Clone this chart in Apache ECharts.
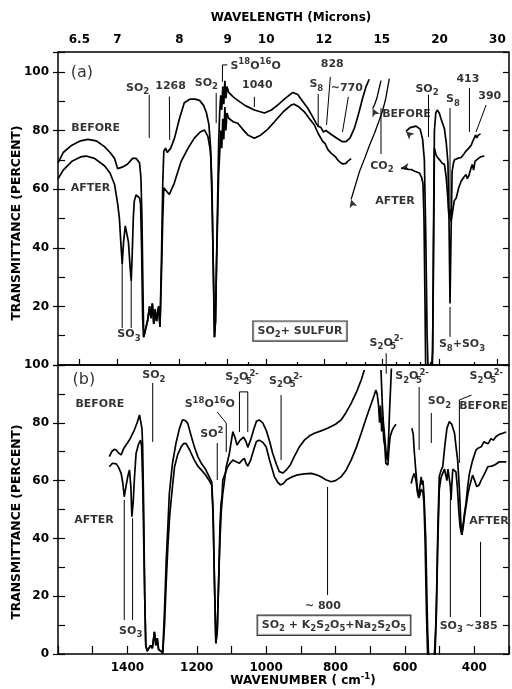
<!DOCTYPE html>
<html><head><meta charset="utf-8">
<script src="https://cdn.jsdelivr.net/npm/echarts@6/dist/echarts.min.js"></script>
<style>html,body{margin:0;padding:0;background:#fff}#c{width:512px;height:689px}</style>
</head><body><div id="c"></div><script>
// ---------------- DATA ----------------
const topMajorMicrons = [6.5, 7, 8, 9, 10, 12, 15, 20, 30];
const topMinorMicrons = [7.5, 8.5, 9.5, 11, 13, 14, 16, 17, 18, 19, 25];
const bottomLabelWavenumbers = [1400, 1200, 1000, 800, 600, 400];

// Panel (a) spectra: [wavenumber cm-1, transmittance %]
const beforeA_left = [[1600,69],[1585,72.5],[1560,75],[1535,76.5],[1514,77],[1490,76.5],[1466,74.5],[1450,72.5],[1437,70.5],[1428,67],[1424,66.5],[1415,67.5],[1400,68.5],[1385,70.5],[1375,70.5],[1365,69],[1361,64],[1358,50],[1355,25],[1353,9.5],[1348,12],[1342,15],[1336,20],[1332,16],[1328,21],[1324,14],[1320,19],[1316,15],[1310,20],[1306,13],[1302,35],[1298,62],[1295,73],[1290,74],[1285,72.5],[1281,72],[1275,74],[1264,77.5],[1250,84],[1236,89.5],[1220,90.7],[1205,90.7],[1192,90.3],[1180,88.5],[1172,86],[1165,82],[1160,74],[1156,60],[1152,30],[1149,9.5],[1146,15],[1143,35],[1140,55],[1137,75],[1134,86],[1131,92],[1128,87],[1125,95],[1122,89],[1119,97],[1116,91],[1113,95],[1108,93],[1095,91.5],[1082,90.3],[1060,88.5],[1034,87],[1005,86],[985,87],[967,88.7],[945,91],[923,93],[909,92.3],[895,90],[880,87.6],[865,84.5],[856,82.5],[850,81.5],[842,81],[835,79.5],[828,80],[823,79.5],[810,78.5],[794,77.2],[780,76.2],[770,76.2],[758,77.5],[745,81],[733,86],[722,91],[712,95],[703,97.5]];
const beforeA_right = [[597,79.7],[585,81],[568,81.5],[556,80.5],[549,77],[544,70],[540,45],[536,10],[533,-3],[524,-3],[520,5],[518,40],[515,80],[511,86],[507,87],[501,86],[496,84],[490,82],[486,80.5],[481,76],[476,69],[473,50],[470,21],[467,45],[464,66],[460,69],[457,70],[448,70.5],[438,70.8],[430,72],[424,73],[416,74],[409,75],[404,76.5],[400,76.5],[396,78.5],[393,77.5],[388,78.5],[382,78.8]];
const afterA_left = [[1600,63.5],[1585,66.5],[1560,69.5],[1535,71],[1519,71.3],[1495,70.5],[1466,68],[1450,65.5],[1437,61.6],[1428,55],[1423,50],[1419,42],[1415,34.5],[1411,42],[1406,47.5],[1402,47],[1397,42],[1392,33],[1389,28.8],[1386,38],[1383,50],[1380,56],[1375,58],[1370,58],[1365,57],[1362,55],[1359,40],[1356,16],[1353,9.5],[1348,12],[1342,15],[1336,20],[1332,16],[1328,21],[1324,14],[1320,19],[1316,15],[1310,20],[1306,13],[1302,30],[1298,50],[1295,60.5],[1290,61],[1285,59],[1279,58.2],[1265,62],[1245,69.5],[1225,74],[1207,77.4],[1190,79.5],[1178,80.2],[1168,78],[1162,74],[1159,70],[1155,50],[1151,25],[1149,9.5],[1146,15],[1143,35],[1140,50],[1137,65],[1134,72],[1131,80],[1128,74],[1125,84],[1122,77],[1119,88],[1116,80],[1113,86],[1108,84.2],[1095,83],[1082,82.5],[1068,80.5],[1053,78.5],[1034,77.4],[1015,78.5],[995,80.5],[976,83],[950,86.5],[928,88.7],[919,89],[905,88],[890,86.4],[875,84],[861,81.9],[850,79],[837,76.3],[830,75.5],[822,73.5],[813,72.3],[800,71],[794,70],[785,69],[779,68.6],[770,68.8],[765,69.5],[755,70.4]];
const afterA_right = [[611,67.2],[600,67],[590,66.8],[582,66.7],[570,66],[558,65.5],[552,64],[548,62],[545,50],[542,20],[540,-3],[521,-3],[518,30],[515,74],[511,72],[507,71],[500,70],[494,69],[486,68.4],[481,64],[477,58],[474,52],[472,50],[470,53],[467,49],[463,52],[458,56],[452,57],[445,60.5],[438,62.7],[431,64],[424,65],[420,63.6],[416,64.5],[410,67],[406,68.4],[402,66.5],[398,69.5],[394,70],[388,70.5],[382,71],[371,71.3]];
const arrowLinesA = [
  [[645,97.7],[650,94.5],[656,90.5],[665,86.5],[674,83.5],[688,79],[702,75],[716,70.5],[731,66],[745,60.5],[755,56.5]],
  [[669,97],[675,94],[681,91],[687,89],[693,87.5]]
];

// Panel (b) spectra
const beforeB_left = [[1452,68.3],[1445,70],[1438,70.8],[1432,70.6],[1425,69.5],[1418,68.9],[1411,71],[1404,72.3],[1392,74.5],[1380,77.5],[1372,80],[1365,82.7],[1361,82.5],[1358,78],[1356,72],[1353,50],[1350,20],[1347,3],[1343,1],[1338,0.5],[1333,3],[1328,2],[1322,7.7],[1318,3],[1314,5.5],[1310,1.5],[1305,2],[1298,0.5],[1293,15],[1288,32.5],[1283,45],[1279,55.6],[1270,66],[1260,72.9],[1250,78],[1241,81],[1233,80.8],[1226,79.8],[1215,75],[1207,71.7],[1197,68.3],[1187,66],[1175,64],[1164,61.3],[1157,59.6],[1153,50],[1149,25],[1145,3.7],[1141,8],[1137,25],[1133,40],[1129,50],[1125,55.6],[1120,60],[1115,64.8],[1106,69.4],[1100,74],[1096,76.9],[1090,75],[1084,72.3],[1075,74],[1065,75],[1058,73.5],[1053,71.5],[1045,74],[1035,78],[1028,80.5],[1020,81],[1010,80],[1000,77.5],[990,73.5],[981,69.4],[970,65.5],[962,63.1],[952,62.6],[942,63.7],[930,65.5],[919,68.3],[905,71.5],[890,74],[875,75.5],[861,76.4],[840,77.3],[823,78.1],[800,79.5],[784,81],[770,83.5],[755,86.7],[740,90.5],[726,94.8],[717,98.3]];
const beforeB_mid = [[669,98.3],[667,92],[665,86],[662,80],[659,76],[656,72],[653,68],[650,67],[647,75],[644,85],[641,93],[639,98.8]];
const beforeB_right = [[580,78.1],[576,76],[573,70],[568,62.5],[564,57],[560,54.4],[557,58],[553,61.3],[550,58.5],[548,60],[545,55],[540,40],[535,10],[531,-3],[516,-3],[511,10],[507,30],[505,44],[501,61.3],[496,63.5],[491,64.8],[485,72],[479,78],[472,80.4],[465,79.5],[457,76.4],[452,71],[448,67.1],[443,57],[439,46],[436,41.2],[432,45],[428,49],[424,52.1],[419,58],[414,62.5],[405,67],[395,70.6],[388,71.3],[380,71.7],[372,73.5],[366,73],[360,72.8],[352,74.5],[345,74],[338,75.2],[328,76],[318,76.4],[308,76.8]];
const afterB_left = [[1452,64.8],[1443,66],[1432,65.8],[1425,64.5],[1418,62.5],[1413,59],[1409,54.4],[1404,58],[1399,61.4],[1394,63.7],[1390,58],[1387,47.5],[1383,53],[1380,60.2],[1375,69.4],[1368,72.5],[1362,74],[1359,72],[1356,60],[1353,40],[1350,20],[1347,3],[1343,1],[1338,0.5],[1333,3],[1328,2],[1322,7.7],[1318,3],[1314,5.5],[1310,1.5],[1305,2],[1298,0.5],[1293,10],[1288,25],[1283,38],[1278,48],[1270,58],[1264,64.8],[1255,69],[1245,71.7],[1238,72.8],[1231,72.9],[1220,70.5],[1207,67.1],[1197,65],[1187,63.7],[1175,62],[1164,60],[1157,58.5],[1153,48],[1149,25],[1145,3.7],[1141,8],[1137,25],[1133,45],[1130,52],[1127,55],[1125,60.2],[1118,62.5],[1111,64.8],[1104,66],[1096,67.1],[1087,66.5],[1077,66],[1070,67],[1063,67.7],[1058,66],[1053,65],[1045,67],[1035,71],[1028,73.5],[1020,74],[1010,73.3],[1000,71.7],[990,67],[976,61.3],[967,59.5],[959,58.5],[950,59],[942,60.2],[925,61.3],[909,62],[890,62.3],[870,62.5],[855,62],[842,61.3],[828,60.3],[813,59.6],[800,60],[784,61.3],[770,63.5],[755,67.1],[740,71.5],[726,76.4],[712,81.5],[697,86.7],[690,89],[684,91.3],[680,90],[676,86],[673,80],[670,86],[667,77],[664,82],[661,74],[658,72],[655,66],[652,65.5],[649,65.4],[646,71],[643,75],[638,77],[632,78.5],[626,79.5]];
const afterB_right = [[582,59],[578,61],[573,62.5],[568,60],[564,56],[560,54],[557,55],[553,57],[548,56],[545,52],[542,40],[538,15],[534,-3],[514,-3],[509,15],[506,35],[501,57],[496,61],[491,62.5],[486,64],[482,64.3],[479,60],[476,64],[472,64.5],[469,58],[467,53.3],[465,58],[462,64],[457,64.5],[453,63],[449,58],[445,50],[441,44],[436,41.2],[432,44],[428,48],[424,51],[419,55],[414,57.9],[405,61.9],[399,60],[393,57.9],[386,58.5],[380,60.2],[370,62.5],[361,64.8],[350,65],[340,65.5],[328,66.5],[308,66.5]];

// Annotation texts: [wavenumber, transmittance, text]
const labelsA = [
  [1490,80.5,'BEFORE'],[1505,60.3,'AFTER'],[1369,94.4,'SO{s|2}'],[1274,95,'1268'],[1394,10.2,'SO{s|3}'],
  [1171,96,'SO{s|2}'],[1029,101.8,'S{p|18}O{p|16}O'],[1024,95.2,'1040'],[854,95.6,'S{s|8}'],[808,102.4,'828'],
  [766,94.4,'~770'],[594,85.3,'BEFORE'],[665,67.7,'CO{s|2}'],[627,55.7,'AFTER'],[535,94.1,'SO{s|2}'],
  [460,90.4,'S{s|8}'],[417,97.3,'413'],[354,91.6,'390'],[434,6.8,'S{s|8}+SO{s|3}'],[652,7.4,'S{s|2}O{w|5}{p|2-}']
];
const leadersA = [
  [[1337,92.2],[1337,77.5]],[[1279,91.6],[1278,76.8]],[[1415,34.8],[1415,12.6]],[[1389,29],[1389,12.6]],
  [[1144,92.8],[1144,82.6]],[[1126,96.6],[1126,102.4],[1112,102.4]],[[1034,91.5],[1034,88]],
  [[815,98.3],[826,81.9]],[[850,92.5],[850,81.2]],[[763,91.5],[780,79.5]],[[669,87.7],[669,72]],
  [[532,92.2],[532,77.8]],[[470,87.7],[470,52.9]],[[414,94.5],[414,79.5]],[[366,88.7],[395,79.5]],
  [[470,19.8],[470,9.6]],[[654,4],[654,-1]]
];
const boxA = [[901,11.4,'SO{s|2}+ SULFUR']];
const tagA = [[1530,99.6,'(a)']];

const labelsB = [
  [1478,86.2,'BEFORE'],[1495,46,'AFTER'],[1322,96.2,'SO{s|2}'],[1389,7.7,'SO{s|3}'],[1161,86.2,'S{p|18}O{p|16}O'],
  [1155,75.8,'SO{p|2}'],[1068,95.5,'S{s|2}O{w|5}{p|2-}'],[942,94.2,'S{s|2}O{w|5}{p|2-}'],[835,16.4,'~ 800'],
  [578,95.8,'S{s|2}O{w|5}{p|2-}'],[499,87.2,'SO{s|2}'],[364,95.8,'S{s|2}O{w|5}{p|2-}'],[372,85.6,'BEFORE'],
  [356,45.8,'AFTER'],[465,9.5,'SO{s|3}'],[378,9.5,'~385']
];
const leadersB = [
  [[1327,93.8],[1327,73.4]],[[1409,53.3],[1409,11.8]],[[1385,47],[1385,11.8]],
  [[1141,83.7],[1115,79.9],[1115,69.9]],[[1141,73],[1141,60.2]],
  [[1077,76.8],[1077,90.7],[1053,90.7],[1053,76.8]],[[957,89.6],[957,67.1]],[[823,57.8],[823,20.4]],
  [[559,92.4],[559,70.6]],[[524,83.4],[524,73]],[[408,89.6],[443,87.9],[443,66.1]],
  [[469,54.3],[469,12.8]],[[382,38.8],[382,12.8]],[[654,101],[654,97]]
];
const boxB = [[803,9.8,'SO{s|2} + K{s|2}S{s|2}O{s|5}+Na{s|2}S{s|2}O{s|5}']];
const tagB = [[1524,94.8,'(b)']];

// ---------------- LAYOUT / STYLE ----------------
const FONT = 'DejaVu Sans', INK = '#000', FW = 'bold';
const GL = 58, GW = 451, GA_T = 52, GA_H = 313, GB_T = 365, GB_H = 289;
const YA_MAX = 106.8, YB_MAX = 100;
const WN_MIN = 300, WN_MAX = 1600;

function joinSegs(segs) {
  const out = [];
  segs.forEach((s, i) => { if (i) out.push([s[0][0], null]); s.forEach(p => out.push(p)); });
  return out;
}
const sub = {fontSize: 8.5, lineHeight: 9, fontFamily: FONT, fontWeight: FW, color: INK};
const rich = {
  s: Object.assign({verticalAlign: 'bottom'}, sub),
  p: Object.assign({verticalAlign: 'top'}, sub),
  w: Object.assign({verticalAlign: 'bottom', width: 1}, sub)
};
function arrowHeads(lines, yMax, gh, atStart) {
  const pxW = GW / (WN_MAX - WN_MIN), pxT = gh / yMax;
  return lines.map(l => {
    const a = atStart ? l[1] : l[l.length - 2], b = atStart ? l[0] : l[l.length - 1];
    const dx = -(b[0] - a[0]) * pxW, dy = -(b[1] - a[1]) * pxT; // dy positive = up
    const phi = Math.atan2(dy, dx) * 180 / Math.PI;
    return {value: b, symbolRotate: phi - 90};
  });
}
const lam = v => { const r = Math.round(10000 / v * 10) / 10; return r % 1 === 0 ? r.toFixed(0) : r.toFixed(1); };

function curve(data, xi, yi, w) {
  return {type: 'line', xAxisIndex: xi, yAxisIndex: yi, data: data, symbol: 'none', silent: true,
    connectNulls: false, clip: true, lineStyle: {color: INK, width: w || 1.7}, z: 3};
}
function labelStyle(size, extra) {
  return Object.assign({show: true, position: [0, 0], align: 'center', verticalAlign: 'middle',
    formatter: p => p.name, fontFamily: FONT, fontWeight: FW, fontSize: size, color: INK, lineHeight: 17,
    textBorderWidth: 0, rich: rich}, extra || {});
}
function textSeries(list, xi, yi, lab) {
  return {type: 'scatter', xAxisIndex: xi, yAxisIndex: yi, symbolSize: 1, silent: true,
    itemStyle: {color: 'rgba(0,0,0,0)'}, z: 6,
    data: list.map(l => ({value: [l[0], l[1]], name: l[2]})),
    label: lab || labelStyle(11)};
}
function arrowSeries(data, xi, yi) {
  return {type: 'scatter', xAxisIndex: xi, yAxisIndex: yi, symbol: 'arrow', symbolSize: [6, 8], silent: true,
    itemStyle: {color: INK}, data: data, z: 5};
}
const boxLabel = labelStyle(11, {borderColor: INK, borderWidth: 1.2, padding: [1, 4, 1, 4], backgroundColor: '#fff'});
const tickFont = {fontFamily: FONT, fontWeight: FW, fontSize: 12, color: INK};

const yBase = (gi, max, pos) => ({gridIndex: gi, type: 'value', min: 0, max: max, position: pos,
  splitLine: {show: false}, axisLine: {show: false}});

const titleStyle = (text, size) => ({text: text, fontFamily: FONT, fontWeight: FW, fontSize: size, fill: INK,
  align: 'center', verticalAlign: 'middle', textAlign: 'center', textVerticalAlign: 'middle'});

const option = {
  animation: false,
  backgroundColor: '#fff',
  grid: [
    {left: GL, top: GA_T, width: GW, height: GA_H, show: true, borderColor: INK, borderWidth: 1.5},
    {left: GL, top: GB_T, width: GW, height: GB_H, show: true, borderColor: INK, borderWidth: 1.5}
  ],
  xAxis: [
    {gridIndex: 0, type: 'value', min: WN_MIN, max: WN_MAX, inverse: true, position: 'top',
      splitLine: {show: false}, axisLine: {show: false},
      axisTick: {show: true, inside: false, length: 6, lineStyle: {color: INK, width: 1.2},
        customValues: topMajorMicrons.map(m => 10000 / m)},
      axisLabel: Object.assign({show: true, margin: 6, formatter: lam,
        customValues: topMajorMicrons.map(m => 10000 / m)}, tickFont)},
    {gridIndex: 0, type: 'value', min: WN_MIN, max: WN_MAX, inverse: true, position: 'top', offset: 0,
      splitLine: {show: false}, axisLine: {show: false},
      axisTick: {show: true, inside: false, length: 3, lineStyle: {color: INK, width: 1.2},
        customValues: topMinorMicrons.map(m => 10000 / m)},
      axisLabel: {show: false}},
    {gridIndex: 1, type: 'value', min: WN_MIN, max: WN_MAX, inverse: true, position: 'bottom', interval: 100,
      splitLine: {show: false}, axisLine: {show: false},
      axisTick: {show: true, inside: true, length: 8, lineStyle: {color: INK, width: 1.2}},
      axisLabel: Object.assign({show: true, margin: 8,
        formatter: v => bottomLabelWavenumbers.includes(v) ? String(v) : ''}, tickFont)}
  ],
  yAxis: [
    Object.assign(yBase(0, YA_MAX, 'left'), {interval: 10,
      axisTick: {inside: true, length: 7, lineStyle: {color: INK, width: 1.2}},
      axisLabel: Object.assign({margin: 9,
        formatter: v => (v > 0 && v <= 100 && v % 20 === 0) ? String(v) : ''}, tickFont)}),
    Object.assign(yBase(0, YA_MAX, 'left'), {interval: 20, offset: 0,
      axisTick: {inside: false, length: 5, lineStyle: {color: INK, width: 1.2}}, axisLabel: {show: false}}),
    Object.assign(yBase(0, YA_MAX, 'right'), {interval: 10,
      axisTick: {inside: true, length: 6, lineStyle: {color: INK, width: 1.2}}, axisLabel: {show: false}}),
    Object.assign(yBase(1, YB_MAX, 'left'), {interval: 10,
      axisTick: {inside: true, length: 7, lineStyle: {color: INK, width: 1.2}},
      axisLabel: Object.assign({margin: 9, formatter: v => (v % 20 === 0) ? String(v) : ''}, tickFont)}),
    Object.assign(yBase(1, YB_MAX, 'left'), {interval: 20, offset: 0,
      axisTick: {inside: false, length: 5, lineStyle: {color: INK, width: 1.2}}, axisLabel: {show: false}}),
    Object.assign(yBase(1, YB_MAX, 'right'), {interval: 10,
      axisTick: {inside: true, length: 6, lineStyle: {color: INK, width: 1.2}}, axisLabel: {show: false}})
  ],
  graphic: [
    {type: 'text', x: 291, y: 18, style: titleStyle('WAVELENGTH (Microns)', 12)},
    {type: 'text', x: 303, y: 681, style: Object.assign(titleStyle('WAVENUMBER ( cm{p|-1})', 12),
      {rich: {p: {fontSize: 8.5, lineHeight: 9, verticalAlign: 'top', fontFamily: FONT, fontWeight: FW}}, lineHeight: 17})},
    {type: 'text', x: 17, y: 223, rotation: Math.PI / 2, style: titleStyle('TRANSMITTANCE (PERCENT)', 12.3)},
    {type: 'text', x: 17, y: 522, rotation: Math.PI / 2, style: titleStyle('TRANSMITTANCE (PERCENT)', 12.3)}
  ],
  series: [
    curve(joinSegs([beforeA_left, beforeA_right]), 0, 0),
    curve(joinSegs([afterA_left, afterA_right]), 0, 0),
    curve(joinSegs(arrowLinesA), 0, 0, 1.3),
    curve(joinSegs(leadersA), 0, 0, 1),
    arrowSeries(arrowHeads(arrowLinesA, YA_MAX, GA_H, false)
      .concat(arrowHeads([beforeA_right, afterA_right], YA_MAX, GA_H, true)), 0, 0),
    textSeries(labelsA, 0, 0),
    textSeries(tagA, 0, 0, labelStyle(16, {fontWeight: 'normal'})),
    textSeries(boxA, 0, 0, boxLabel),

    curve(joinSegs([beforeB_left, beforeB_mid, beforeB_right]), 2, 3),
    curve(joinSegs([afterB_left, afterB_right]), 2, 3),
    curve(joinSegs(leadersB), 2, 3, 1),
    textSeries(labelsB, 2, 3),
    textSeries(tagB, 2, 3, labelStyle(16, {fontWeight: 'normal'})),
    textSeries(boxB, 2, 3, boxLabel)
  ]
};
const chart = echarts.init(document.getElementById('c'), null, {renderer: 'canvas'});
chart.setOption(option);
</script></body></html>
